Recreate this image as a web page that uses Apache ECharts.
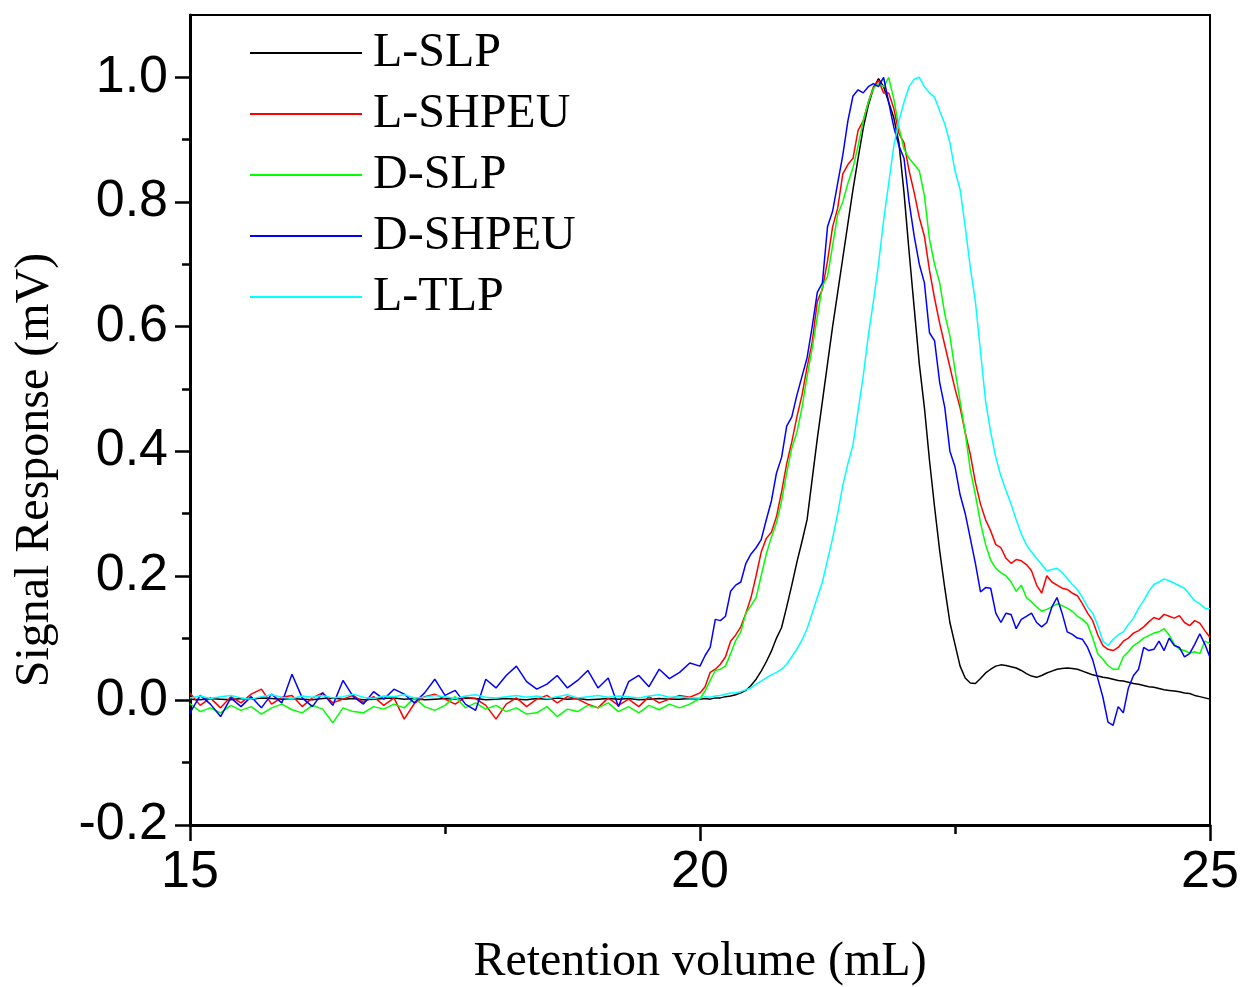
<!DOCTYPE html>
<html>
<head>
<meta charset="utf-8">
<script src="https://cdn.jsdelivr.net/npm/echarts@6/dist/echarts.min.js"></script>
<style>
html,body{margin:0;padding:0;background:#fff;}
#chart{width:1246px;height:987px;}
</style>
</head>
<body>
<div id="chart"></div>
<script>
// Retention volume sample positions (mL)
const X_VALUES = [
15.0,15.1,15.2,15.3,15.4,15.5,15.6,15.7,15.8,15.9,
16.0,16.1,16.2,16.3,16.4,16.5,16.6,16.7,16.8,16.9,
17.0,17.1,17.2,17.3,17.4,17.5,17.6,17.7,17.8,17.9,
18.0,18.1,18.2,18.3,18.4,18.5,18.6,18.7,18.8,18.9,
19.0,19.1,19.2,19.3,19.4,19.5,19.6,19.7,19.8,19.9,
20.00,20.05,20.10,20.15,20.20,20.25,20.30,20.35,20.40,20.45,
20.50,20.55,20.60,20.65,20.70,20.75,20.80,20.85,20.90,20.95,
21.00,21.05,21.10,21.15,21.20,21.25,21.30,21.35,21.40,21.45,
21.50,21.55,21.60,21.65,21.70,21.75,21.80,21.85,21.90,21.95,
22.00,22.05,22.10,22.15,22.20,22.25,22.30,22.35,22.40,22.45,
22.50,22.55,22.60,22.65,22.70,22.75,22.80,22.85,22.90,22.95,
23.00,23.05,23.10,23.15,23.20,23.25,23.30,23.35,23.40,23.45,
23.50,23.55,23.60,23.65,23.70,23.75,23.80,23.85,23.90,23.95,
24.00,24.05,24.10,24.15,24.20,24.25,24.30,24.35,24.40,24.45,
24.50,24.55,24.60,24.65,24.70,24.75,24.80,24.85,24.90,24.95,
25.00
];

const L_SLP = [
0.002,0.001,0.003,0.002,0.001,0.003,0.002,0.004,0.003,0.002,
0.003,0.002,0.001,0.003,0.004,0.002,0.003,0.001,0.002,0.003,
0.004,0.002,0.003,0.001,0.002,0.003,0.002,0.004,0.003,0.001,
0.002,0.003,0.002,0.001,0.003,0.002,0.004,0.002,0.003,0.001,
0.002,0.003,0.002,0.003,0.001,0.002,0.003,0.002,0.002,0.003,
0.002,0.003,0.002,0.004,0.004,0.006,0.007,0.009,0.012,0.016,
0.024,0.034,0.047,0.062,0.079,0.100,0.117,0.150,0.185,0.222,
0.255,0.290,0.355,0.420,0.480,0.540,0.600,0.655,0.710,0.765,
0.820,0.870,0.918,0.955,0.982,0.998,0.985,0.960,0.935,0.895,
0.815,0.720,0.630,0.540,0.470,0.385,0.310,0.240,0.180,0.125,
0.090,0.055,0.036,0.028,0.027,0.035,0.044,0.050,0.055,0.057,
0.056,0.054,0.052,0.048,0.043,0.039,0.037,0.040,0.044,0.047,
0.050,0.051,0.052,0.051,0.050,0.047,0.044,0.041,0.039,0.037,
0.036,0.034,0.032,0.031,0.029,0.027,0.026,0.024,0.022,0.021,
0.019,0.017,0.016,0.015,0.014,0.012,0.011,0.008,0.006,0.004,
0.002
];

const L_SHPEU = [
0.012,-0.008,0.004,-0.012,0.006,-0.004,0.010,0.018,-0.006,0.005,
0.008,-0.010,0.004,0.012,-0.004,0.002,0.008,-0.003,0.006,-0.008,
0.004,-0.030,-0.005,0.006,0.010,0.002,-0.006,0.005,0.003,-0.008,
-0.030,-0.006,0.004,-0.010,0.002,0.008,-0.004,0.006,0.002,-0.006,
-0.012,0.004,-0.008,0.002,-0.010,0.006,-0.004,0.002,0.008,0.005,
0.012,0.022,0.045,0.050,0.058,0.070,0.095,0.105,0.118,0.140,
0.165,0.200,0.238,0.260,0.270,0.295,0.335,0.380,0.415,0.455,
0.490,0.535,0.575,0.640,0.660,0.705,0.760,0.790,0.845,0.860,
0.870,0.915,0.930,0.960,0.985,0.995,0.975,0.975,0.950,0.910,
0.895,0.850,0.815,0.775,0.745,0.690,0.645,0.605,0.570,0.535,
0.500,0.470,0.430,0.395,0.350,0.315,0.290,0.272,0.250,0.245,
0.228,0.220,0.226,0.224,0.218,0.208,0.185,0.172,0.200,0.190,
0.185,0.180,0.178,0.172,0.168,0.155,0.140,0.128,0.105,0.088,
0.082,0.080,0.085,0.095,0.100,0.108,0.112,0.118,0.126,0.133,
0.130,0.138,0.135,0.132,0.136,0.125,0.120,0.128,0.124,0.112,
0.101
];

const D_SLP = [
-0.005,-0.018,-0.012,-0.020,-0.008,-0.016,-0.010,-0.022,-0.012,-0.006,
-0.015,-0.020,-0.008,-0.014,-0.036,-0.012,-0.018,-0.020,-0.010,-0.014,
-0.006,-0.012,0.004,-0.010,-0.016,-0.008,0.006,-0.012,-0.004,-0.014,
-0.008,-0.018,-0.012,-0.022,-0.020,-0.010,-0.026,-0.014,-0.018,-0.008,
-0.012,-0.004,-0.018,-0.010,-0.020,-0.008,-0.015,-0.006,-0.012,-0.006,
0.003,0.015,0.032,0.048,0.050,0.055,0.075,0.096,0.110,0.140,
0.152,0.165,0.200,0.235,0.262,0.285,0.320,0.365,0.405,0.430,
0.470,0.520,0.565,0.615,0.665,0.680,0.730,0.780,0.800,0.830,
0.855,0.890,0.930,0.960,0.982,0.990,0.985,1.000,0.965,0.920,
0.885,0.870,0.860,0.850,0.810,0.740,0.700,0.670,0.620,0.585,
0.530,0.480,0.430,0.370,0.330,0.285,0.250,0.225,0.212,0.205,
0.200,0.190,0.175,0.185,0.165,0.158,0.150,0.143,0.146,0.150,
0.155,0.152,0.148,0.143,0.135,0.130,0.122,0.100,0.075,0.066,
0.056,0.050,0.050,0.070,0.078,0.088,0.093,0.100,0.104,0.108,
0.110,0.115,0.105,0.090,0.082,0.080,0.076,0.078,0.075,0.095,
0.091
];

const D_SHPEU = [
-0.020,0.008,-0.006,-0.026,0.004,-0.010,0.006,-0.012,0.010,-0.004,
0.042,0.004,-0.010,0.012,-0.008,0.032,0.006,-0.006,0.014,0.002,
0.018,0.010,-0.004,0.012,0.034,0.008,0.016,-0.006,-0.016,0.034,
0.020,0.040,0.055,0.030,0.018,0.026,0.040,0.020,0.032,0.048,
0.020,0.036,-0.010,0.030,0.040,0.022,0.050,0.035,0.045,0.060,
0.055,0.072,0.085,0.130,0.128,0.135,0.175,0.185,0.190,0.220,
0.235,0.245,0.258,0.290,0.320,0.365,0.390,0.440,0.455,0.490,
0.520,0.550,0.600,0.655,0.670,0.760,0.785,0.830,0.875,0.930,
0.970,0.980,0.975,0.985,0.990,0.985,1.000,0.960,0.920,0.890,
0.870,0.800,0.745,0.700,0.670,0.590,0.577,0.510,0.470,0.400,
0.375,0.330,0.300,0.260,0.220,0.174,0.181,0.180,0.140,0.125,
0.140,0.138,0.115,0.130,0.135,0.140,0.125,0.118,0.125,0.150,
0.165,0.140,0.110,0.106,0.100,0.098,0.085,0.065,0.035,0.005,
-0.035,-0.040,-0.010,-0.020,0.020,0.040,0.050,0.085,0.080,0.082,
0.095,0.080,0.100,0.088,0.085,0.070,0.075,0.090,0.107,0.090,
0.069
];

const L_TLP = [
0.004,0.007,0.003,0.006,0.008,0.004,0.002,0.006,0.009,0.005,
0.003,0.007,0.005,0.008,0.004,0.006,0.010,0.005,0.003,0.007,
0.006,0.009,0.004,0.005,0.008,0.006,0.003,0.007,0.009,0.005,
0.004,0.006,0.008,0.005,0.007,0.003,0.006,0.009,0.004,0.006,
0.008,0.005,0.007,0.006,0.004,0.007,0.009,0.005,0.006,0.004,
0.004,0.006,0.005,0.007,0.008,0.010,0.012,0.012,0.014,0.017,
0.020,0.026,0.031,0.036,0.041,0.045,0.050,0.058,0.070,0.082,
0.097,0.115,0.140,0.165,0.190,0.225,0.260,0.300,0.345,0.380,
0.410,0.465,0.520,0.585,0.640,0.700,0.770,0.830,0.890,0.930,
0.960,0.985,0.997,1.000,0.985,0.975,0.968,0.946,0.925,0.895,
0.850,0.820,0.760,0.695,0.640,0.560,0.480,0.430,0.390,0.360,
0.337,0.315,0.290,0.267,0.250,0.238,0.228,0.218,0.208,0.210,
0.212,0.205,0.196,0.186,0.178,0.165,0.150,0.140,0.120,0.095,
0.088,0.098,0.105,0.110,0.122,0.132,0.148,0.160,0.175,0.186,
0.190,0.195,0.192,0.188,0.184,0.180,0.170,0.160,0.155,0.148,
0.147
];

const SERIES_NAMES = ['L-SLP','L-SHPEU','D-SLP','D-SHPEU','L-TLP'];
const SERIES_VALUES = [L_SLP, L_SHPEU, D_SLP, D_SHPEU, L_TLP];
const SERIES_COLORS = ['#000000','#ff0000','#00ff00','#0000ff','#00ffff'];

const Y_MAJOR = [-0.2,0,0.2,0.4,0.6,0.8,1.0];
const Y_MINOR = [-0.1,0.1,0.3,0.5,0.7,0.9];
const X_MAJOR = [15,20,25];

const chart = echarts.init(document.getElementById('chart'), null, {renderer:'canvas'});

const series = SERIES_NAMES.map((name, k) => ({
  name: name,
  type: 'line',
  symbol: 'none',
  showSymbol: false,
  xAxisIndex: 0,
  yAxisIndex: 0,
  color: SERIES_COLORS[k],
  lineStyle: {width: 1.5, color: SERIES_COLORS[k]},
  data: X_VALUES.map((x, i) => [x, SERIES_VALUES[k][i]])
}));

const sansFont = '"Liberation Sans", Arial, sans-serif';
const serifFont = '"Liberation Serif", "Times New Roman", serif';

chart.setOption({
  animation: false,
  backgroundColor: '#ffffff',
  grid: {
    left: 190, right: 36, top: 15, bottom: 162,
    containLabel: false, outerBoundsMode: 'none',
    show: true, borderColor: '#000', borderWidth: 2, backgroundColor: 'transparent'
  },
  legend: {
    orient: 'vertical',
    left: 245, top: 24,
    icon: 'rect',
    itemWidth: 112, itemHeight: 2,
    itemGap: 13,
    data: SERIES_NAMES,
    textStyle: {fontFamily: serifFont, fontSize: 48, lineHeight: 48, color: '#000', padding: [0,0,0,6]}
  },
  xAxis: [{
    type: 'value', min: 15, max: 25, interval: 5,
    axisLine: {show: true, onZero: false, lineStyle: {color: '#000', width: 3}},
    axisTick: {show: true, inside: false, length: 16, lineStyle: {color: '#000', width: 2.5}},
    minorTick: {show: true, splitNumber: 2, length: 9, lineStyle: {color: '#000', width: 2.5}},
    splitLine: {show: false},
    axisLabel: {fontFamily: sansFont, fontSize: 52, color: '#000', margin: 22,
      formatter: v => (X_MAJOR.indexOf(v) >= 0 ? String(v) : '')},
    name: 'Retention volume (mL)', nameLocation: 'middle', nameGap: 113,
    nameTextStyle: {fontFamily: serifFont, fontSize: 48, lineHeight: 48, color: '#000'}
  }],
  yAxis: [{
    type: 'value', min: -0.2, max: 1.1, interval: 0.2,
    axisLine: {show: true, onZero: false, lineStyle: {color: '#000', width: 3}},
    axisTick: {show: true, inside: false, length: 15, customValues: Y_MAJOR, lineStyle: {color: '#000', width: 2.5}},
    splitLine: {show: false},
    axisLabel: {fontFamily: sansFont, fontSize: 52, color: '#000', margin: 22, customValues: Y_MAJOR,
      formatter: v => Number(v).toFixed(1)},
    name: 'Signal Response (mV)', nameLocation: 'middle', nameGap: 131,
    nameTextStyle: {fontFamily: serifFont, fontSize: 48, lineHeight: 48, color: '#000', padding: [0, 100, 0, 0]}
  }, {
    type: 'value', min: -0.2, max: 1.1, interval: 0.2, position: 'left', offset: 0,
    axisLine: {show: false},
    axisTick: {show: true, inside: false, length: 8, customValues: Y_MINOR, lineStyle: {color: '#000', width: 2.5}},
    axisLabel: {show: false},
    splitLine: {show: false}
  }],
  series: series
});
</script>
</body>
</html>
